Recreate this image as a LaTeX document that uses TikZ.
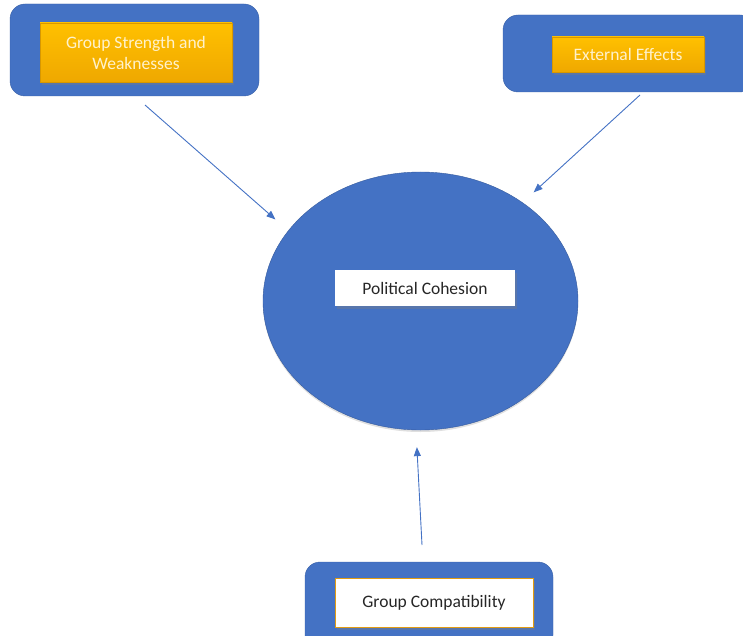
\documentclass[tikz,border=0pt]{standalone}
\usepackage{fontspec}
\setmainfont{Carlito}
\usepackage{xcolor}
\usetikzlibrary{arrows.meta,positioning,shapes.geometric,shadows}

\definecolor{wordblue}{HTML}{4472C4}
\definecolor{wordgold}{HTML}{FFC000}
\definecolor{wordgolddark}{HTML}{EFA800}
\definecolor{paletext}{HTML}{FFF2CC}
\definecolor{darktext}{HTML}{262626}

\tikzset{
    outerbox/.style={fill=wordblue, draw=wordblue!85!black, rounded corners=15pt, inner sep=0pt},
    goldbox/.style={top color=wordgold, bottom color=wordgolddark, draw=wordgolddark!90!black,
        text=paletext, align=center, inner sep=0pt, font=\fontsize{17.5}{21}\selectfont,
        drop shadow={shadow xshift=2pt, shadow yshift=-3pt, opacity=0.35}},
    whitebox/.style={fill=white, text=darktext, inner sep=0pt, font=\fontsize{17.5}{21}\selectfont,
        drop shadow={shadow xshift=2pt, shadow yshift=-3pt, opacity=0.35}},
    flow/.style={draw=wordblue, line width=0.9pt, -{Triangle[length=9pt,width=7pt]}}
}

\begin{document}
\begin{tikzpicture}[x=1pt, y=-1pt]
    % page frame
    \useasboundingbox (0,0) rectangle (743,636);
    \clip (0,0) rectangle (743,636);

    % central ellipse
    \node[ellipse, fill=wordblue, draw=wordblue!80!black, minimum width=315pt, minimum height=258pt,
        drop shadow={shadow xshift=0pt, shadow yshift=-2pt, opacity=0.25}] (cohesion) at (420.5,301) {};
    \node[whitebox, minimum width=180pt, minimum height=36pt] (cohesionlabel) at (425,288) {Political Cohesion};

    % top left box
    \node[outerbox, minimum width=249pt, minimum height=92pt] (strength) at (134.5,50) {};
    \node[goldbox, minimum width=192pt, minimum height=59pt] (strengthlabel) at (136,52.5) {Group Strength and\\Weaknesses};

    % top right box (runs off the page)
    \node[outerbox, minimum width=252pt, minimum height=77pt] (external) at (629,53.5) {};
    \node[goldbox, minimum width=152pt, minimum height=35pt] (externallabel) at (628,54.5) {External Effects};

    % bottom box (runs off the page)
    \node[outerbox, minimum width=248pt, minimum height=88pt] (compat) at (429,606) {};
    \node[whitebox, draw=wordgolddark!70!brown, line width=0.8pt, minimum width=198pt, minimum height=49pt] (compatlabel) at (434,602.5) {Group Compatibility};

    % arrows into the ellipse
    \coordinate (strengthtail) at (145,105);
    \coordinate (externaltail) at (640,95);
    \coordinate (compattail) at (422,545);
    \draw[flow, shorten >=17pt] (strengthtail) -- (cohesion.152);
    \draw[flow, shorten >=15pt] (externaltail) -- (cohesion.44);
    \draw[flow, shorten >=17pt] (compattail) -- (cohesion.268);
\end{tikzpicture}
\end{document}
